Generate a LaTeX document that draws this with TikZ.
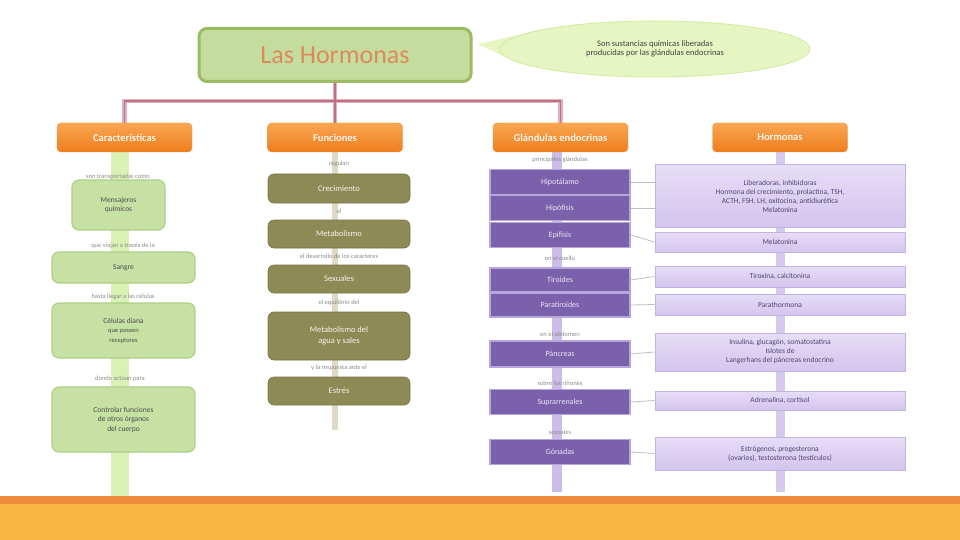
\documentclass[tikz,border=0pt]{standalone}
\usepackage{fontspec}
\setmainfont{Carlito}
\usetikzlibrary{shapes.geometric,backgrounds}
\definecolor{titlefill}{HTML}{C4DD9E}
\definecolor{titledraw}{HTML}{9CBB62}
\definecolor{titletext}{HTML}{DC8A5C}
\definecolor{ellfill}{HTML}{E6F6C2}
\definecolor{ellline}{HTML}{D3EDA6}
\definecolor{connout}{HTML}{E0B0BD}
\definecolor{connin}{HTML}{C06F86}
\definecolor{orangetop}{HTML}{F8A652}
\definecolor{orangebot}{HTML}{EE7D1E}
\definecolor{greenfill}{HTML}{C6E1A3}
\definecolor{greendraw}{HTML}{ADD088}
\definecolor{greenbar}{HTML}{D9F1B2}
\definecolor{olive}{HTML}{8E8A55}
\definecolor{olivebar}{HTML}{DEDAC6}
\definecolor{purple}{HTML}{7B61AC}
\definecolor{purpledraw}{HTML}{B7A6DB}
\definecolor{purplebar}{HTML}{CBBCE8}
\definecolor{lavtop}{HTML}{E6DDF6}
\definecolor{lavbot}{HTML}{D3C5EE}
\definecolor{lavdraw}{HTML}{C3B3E2}
\definecolor{lavtext}{HTML}{4E4470}
\definecolor{labelgrey}{HTML}{8A8A8A}
\definecolor{bandline}{HTML}{EF8B3C}
\definecolor{bandfill}{HTML}{FBB643}
\begin{document}
\begin{tikzpicture}[x=1pt,y=-1pt,
  titlebox/.style={draw=titledraw,line width=3pt,fill=titlefill,rounded corners=8pt,
    minimum width=272pt,minimum height=53pt,text=titletext,font=\fontsize{26}{28}\selectfont},
  bubble/.style={ellipse,fill=ellfill,draw=ellline,line width=1pt,minimum width=310pt,minimum height=56pt,
    inner sep=0pt,align=center,text=black!75,font=\fontsize{8.5}{9.5}\selectfont},
  headbox/.style={rounded corners=4pt,top color=orangetop,bottom color=orangebot,draw=orangebot!80,
    minimum width=135pt,minimum height=29pt,inner sep=0pt,text=white!92!orange,font=\fontsize{10.5}{12}\selectfont\bfseries},
  greenbox/.style={rounded corners=7pt,fill=greenfill,draw=greendraw,line width=1.2pt,
    minimum width=143pt,inner sep=0pt,align=center,text=black!70,font=\fontsize{7.5}{9.5}\selectfont},
  olivebox/.style={rounded corners=6pt,fill=olive,draw=olive!85!black,line width=0.6pt,
    minimum width=142pt,inner sep=0pt,align=center,text=white!90!olive,font=\fontsize{8.5}{10.5}\selectfont},
  purplebox/.style={fill=purple,draw=purpledraw,line width=1.6pt,minimum width=140pt,inner sep=0pt,
    align=center,text=white!85!purple,font=\fontsize{8}{9.5}\selectfont},
  lavbox/.style={top color=lavtop,bottom color=lavbot,draw=lavdraw,line width=1pt,minimum width=250pt,
    inner sep=0pt,align=center,text=lavtext,font=\fontsize{7.5}{9}\selectfont},
  smalllabel/.style={inner sep=0pt,text=labelgrey,font=\fontsize{6.5}{7.5}\selectfont},
  conn/.style={draw=connout,line width=4.5pt},
  conninner/.style={draw=connin,line width=1.2pt},
  bargreen/.style={draw=greenbar,line width=18pt},
  barolive/.style={draw=olivebar,line width=6pt},
  barpurple/.style={draw=purplebar,line width=10pt},
  barlav/.style={draw=purplebar!80,line width=9pt},
  tick/.style={draw=black!25,line width=0.8pt}
]
\useasboundingbox (0,0) rectangle (960,540);

% bottom band
\fill[bandfill] (0,503) rectangle (960,540);
\fill[bandline] (0,496) rectangle (960,504);

% title and bubble
\node[titlebox] (title) at (335,55) {Las Hormonas};
\node[bubble] (bub) at (655,49) {Son sustancias químicas liberadas\\producidas por las glándulas endocrinas};

% headers
\node[headbox] (h1) at (124.5,137.5) {Características};
\node[headbox] (h2) at (335,137.5) {Funciones};
\node[headbox] (h3) at (560.5,137.5) {Glándulas endocrinas};
\node[headbox] (h4) at (780,137.5) {Hormonas};

% column 1
\node[smalllabel] (l1a) at (118,177) {son transportadas como};
\node[greenbox,minimum width=93pt,minimum height=50pt] (a1) at (118.5,205) {Mensajeros\\químicos};
\node[smalllabel] (l1b) at (123,246) {que viajan a través de la};
\node[greenbox,minimum height=31pt] (a2) at (123.5,267.5) {Sangre};
\node[smalllabel] (l1c) at (123,297) {hasta llegar a las células};
\node[greenbox,minimum height=55pt] (a3) at (123.5,330.5) {Células diana\\{\fontsize{6.5}{8}\selectfont que poseen}\\{\fontsize{6.5}{8}\selectfont receptores}};
\node[smalllabel] (l1d) at (120,379) {donde actúan para};
\node[greenbox,minimum height=65pt] (a4) at (123.5,419.5) {Controlar funciones\\de otros órganos\\del cuerpo};
\coordinate (e1) at (120,497);

% column 2
\node[smalllabel] (l2a) at (339,164) {regulan};
\node[olivebox,minimum height=29pt] (b1) at (339,188.5) {Crecimiento};
\node[smalllabel] (l2b) at (339,211) {el};
\node[olivebox,minimum height=28pt] (b2) at (339,234) {Metabolismo};
\node[smalllabel] (l2c) at (339,256) {el desarrollo de los caracteres};
\node[olivebox,minimum height=28pt] (b3) at (339,279) {Sexuales};
\node[smalllabel] (l2d) at (339,303) {el equilibrio del};
\node[olivebox,minimum height=48pt] (b4) at (339,336) {Metabolismo del\\agua y sales};
\node[smalllabel] (l2e) at (339,368) {y la respuesta ante el};
\node[olivebox,minimum height=28pt] (b5) at (339,391) {Estrés};
\coordinate (e2) at (335,430);

% column 3
\node[smalllabel] (l3a) at (560,160) {principales glándulas};
\node[purplebox,minimum height=25pt] (r1) at (560,182) {Hipotálamo};
\node[purplebox,minimum height=25pt] (r2) at (560,208) {Hipófisis};
\node[purplebox,minimum height=25pt] (r3) at (560,235) {Epífisis};
\node[smalllabel] (l3b) at (560,258) {en el cuello};
\node[purplebox,minimum height=24pt] (r4) at (560,280) {Tiroides};
\node[purplebox,minimum height=24pt] (r5) at (560,305) {Paratiroides};
\node[smalllabel] (l3c) at (560,334) {en el abdomen};
\node[purplebox,minimum height=26pt] (r6) at (560,354) {Páncreas};
\node[smalllabel] (l3d) at (560,383) {sobre los riñones};
\node[purplebox,minimum height=25pt] (r7) at (560,402) {Suprarrenales};
\node[smalllabel] (l3e) at (560,432) {sexuales};
\node[purplebox,minimum height=25pt] (r8) at (560,452) {Gónadas};
\coordinate (e3) at (557,492);

% column 4
\node[lavbox,minimum height=62pt] (d1) at (780,196) {Liberadoras, inhibidoras\\Hormona del crecimiento, prolactina, TSH,\\ACTH, FSH, LH, oxitocina, antidiurética\\Melatonina};
\node[lavbox,minimum height=20pt] (d2) at (780,242) {Melatonina};
\node[lavbox,minimum height=21pt] (d3) at (780,276.5) {Tiroxina, calcitonina};
\node[lavbox,minimum height=21pt] (d4) at (780,304.5) {Parathormona};
\node[lavbox,minimum height=38pt] (d5) at (780,352) {Insulina, glucagón, somatostatina\\Islotes de\\Langerhans del páncreas endocrino};
\node[lavbox,minimum height=19pt] (d6) at (780,400.5) {Adrenalina, cortisol};
\node[lavbox,minimum height=33pt] (d7) at (780,453.5) {Estrógenos, progesterona\\(ovarios), testosterona (testículos)};
\coordinate (e4) at (780,492);

% top connectors
\coordinate (hub) at (335,101);
\begin{scope}[on background layer]
  \draw[conn] (title.south) -- (hub);
  \draw[conn] (hub) -| (h1.north);
  \draw[conn] (hub) -| (h3.north);
  \draw[conn] (hub) -- (h2.north);
  \draw[conninner] (title.south) -- (hub);
  \draw[conninner] (hub) -| (h1.north);
  \draw[conninner] (hub) -| (h3.north);
  \draw[conninner] (hub) -- (h2.north);
  \fill[ellfill] (bub.174) -- (478,44) -- (bub.184) -- cycle;
  \draw[bargreen] (h1.south -| e1) -- (e1);
  \draw[barolive] (h2.south) -- (e2);
  \draw[barpurple] (h3.south -| e3) -- (e3);
  \draw[barlav] (h4.south) -- (e4);
  \draw[tick] (r1.east) -- (d1.west |- r1.east);
  \draw[tick] (r2.east) -- (d1.west |- r2.east);
  \draw[tick] (r3.east) -- (d2.west);
  \draw[tick] (r4.east) -- (d3.west);
  \draw[tick] (r5.east) -- (d4.west);
  \draw[tick] (r6.east) -- (d5.west);
  \draw[tick] (r7.east) -- (d6.west);
  \draw[tick] (r8.east) -- (d7.west);
\end{scope}
\end{tikzpicture}
\end{document}
